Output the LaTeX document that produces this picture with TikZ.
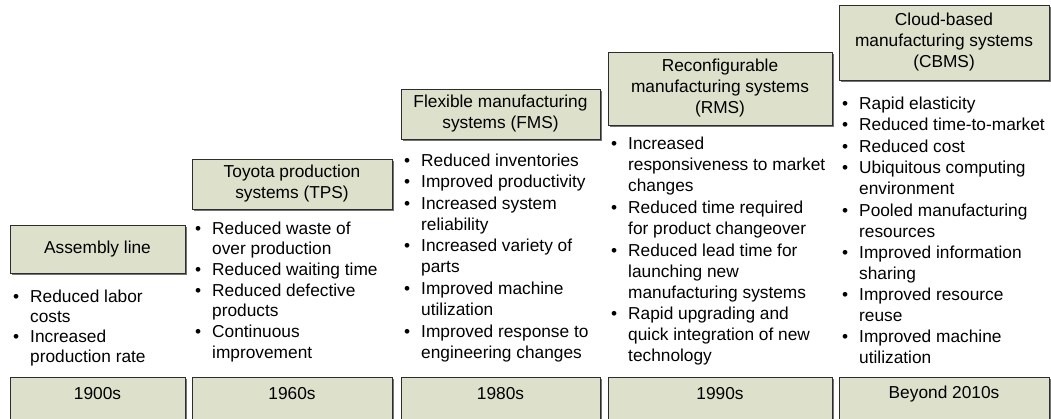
\documentclass[tikz,border=0pt]{standalone}
\usepackage{fontspec}
\setmainfont{Liberation Sans}
\usetikzlibrary{shadows}
\definecolor{boxfill}{RGB}{221,224,202}
\definecolor{boxline}{RGB}{45,45,45}
\newcommand\txtfont{\fontsize{17.3}{21}\selectfont}
\tikzset{
  box/.style={draw=boxline, line width=0.9pt, fill=boxfill,
    drop shadow={shadow xshift=1.6pt, shadow yshift=-1.6pt, fill=black!55, opacity=1},
    inner sep=0pt, align=center, font=\txtfont},
  li/.style={anchor=west, inner sep=0pt, text height=12.4pt, text depth=0pt, font=\txtfont},
  lbl/.style={inner sep=0pt, font=\txtfont},
}
% bullet item line: name, left edge of column, y, text
\newcommand\BI[4]{\node[li] (#1b) at (#2+3,#3) {•};\node[li] (#1) at (#2+20,#3) {#4};}
\newcommand\CI[4]{\node[li] (#1) at (#2+20,#3) {#4};}
\begin{document}
\begin{tikzpicture}[x=1pt,y=-1pt]
\clip (0,0) rectangle (1051,419);
\fill[white] (0,0) rectangle (1051,419);
% top boxes
\node[box, minimum width=175pt, minimum height=48pt] (h1) at (97.5,249) {Assembly line};
\node[box, minimum width=200pt, minimum height=50pt] (h2) at (292,184) {Toyota production\\systems (TPS)};
\node[box, minimum width=199pt, minimum height=50pt] (h3) at (500.5,114) {Flexible manufacturing\\systems (FMS)};
\node[box, minimum width=224pt, minimum height=73pt] (h4) at (720,88.5) {Reconfigurable\\manufacturing systems\\(RMS)};
\node[box, minimum width=210pt, minimum height=75pt] (h5) at (944,42.5) {Cloud-based\\manufacturing systems\\(CBMS)};
% bottom boxes
\node[box, minimum width=175pt, minimum height=48pt] (d1) at (97.5,401) {};
\node[box, minimum width=200pt, minimum height=48pt] (d2) at (292,401) {};
\node[box, minimum width=199pt, minimum height=48pt] (d3) at (500.5,401) {};
\node[box, minimum width=224pt, minimum height=48pt] (d4) at (720,401) {};
\node[box, minimum width=210pt, minimum height=48pt] (d5) at (944,401) {};
\node[lbl] (t1) at (97.5,394) {1900s};
\node[lbl] (t2) at (292,394) {1960s};
\node[lbl] (t3) at (500.5,394) {1980s};
\node[lbl] (t4) at (720,394) {1990s};
\node[lbl] (t5) at (944,394) {Beyond 2010s};
% column 1
\BI{a1}{10}{296}{Reduced labor}
\CI{a2}{10}{316}{costs}
\BI{a3}{10}{336}{Increased}
\CI{a4}{10}{356}{production rate}
% column 2
\BI{b1}{192}{228}{Reduced waste of}
\CI{b2}{192}{248}{over production}
\BI{b3}{192}{269}{Reduced waiting time}
\BI{b4}{192}{290}{Reduced defective}
\CI{b5}{192}{310}{products}
\BI{b6}{192}{331}{Continuous}
\CI{b7}{192}{352}{improvement}
% column 3
\BI{c1}{401}{160}{Reduced inventories}
\BI{c2}{401}{181}{Improved productivity}
\BI{c3}{401}{203}{Increased system}
\CI{c4}{401}{224}{reliability}
\BI{c5}{401}{245}{Increased variety of}
\CI{c6}{401}{266}{parts}
\BI{c7}{401}{288}{Improved machine}
\CI{c8}{401}{309}{utilization}
\BI{c9}{401}{331}{Improved response to}
\CI{c10}{401}{352}{engineering changes}
% column 4
\BI{e1}{608}{143}{Increased}
\CI{e2}{608}{164}{responsiveness to market}
\CI{e3}{608}{185}{changes}
\BI{e4}{608}{207}{Reduced time required}
\CI{e5}{608}{228}{for product changeover}
\BI{e6}{608}{250}{Reduced lead time for}
\CI{e7}{608}{271}{launching new}
\CI{e8}{608}{292}{manufacturing systems}
\BI{e9}{608}{313}{Rapid upgrading and}
\CI{e10}{608}{334}{quick integration of new}
\CI{e11}{608}{355}{technology}
% column 5
\BI{f1}{839}{103}{Rapid elasticity}
\BI{f2}{839}{124}{Reduced time-to-market}
\BI{f3}{839}{146}{Reduced cost}
\BI{f4}{839}{167}{Ubiquitous computing}
\CI{f5}{839}{188}{environment}
\BI{f6}{839}{210}{Pooled manufacturing}
\CI{f7}{839}{231}{resources}
\BI{f8}{839}{252}{Improved information}
\CI{f9}{839}{273}{sharing}
\BI{f10}{839}{294}{Improved resource}
\CI{f11}{839}{315}{reuse}
\BI{f12}{839}{336}{Improved machine}
\CI{f13}{839}{357}{utilization}
\end{tikzpicture}
\end{document}
